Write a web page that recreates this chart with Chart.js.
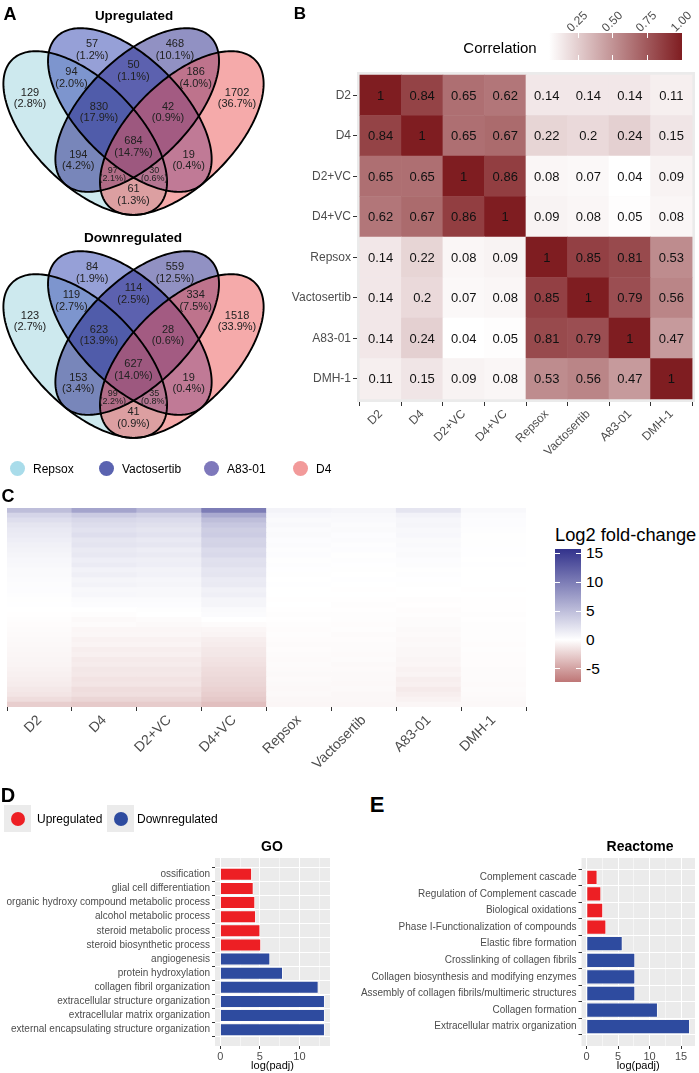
<!DOCTYPE html>
<html><head><meta charset="utf-8">
<script src="https://cdn.jsdelivr.net/npm/chart.js@4.4.1/dist/chart.umd.min.js"></script>
<style>
body{margin:0;width:699px;height:1073px;position:relative;background:#fff;font-family:"Liberation Sans",Arial,Helvetica,sans-serif;overflow:hidden}
canvas{position:absolute}
.t{position:absolute;white-space:nowrap;line-height:1;transform:translate(-50%,-50%)}
.l{position:absolute;white-space:nowrap;line-height:1;transform:translate(0,-50%)}
.b{font-weight:bold}
.dot{position:absolute;border-radius:50%}
</style></head><body>
<canvas id="venn1" width="270" height="225" style="left:0;top:0"></canvas>
<canvas id="venn2" width="270" height="225" style="left:0;top:223px"></canvas>
<canvas id="corr" width="449" height="395" style="left:250px;top:62px"></canvas>
<canvas id="lfc" width="540" height="275" style="left:0;top:500px"></canvas>
<canvas id="go" width="333" height="223" style="left:0;top:850px"></canvas>
<canvas id="rea" width="349" height="223" style="left:350px;top:850px"></canvas>
<div id="txt"></div>
<script>
// ---------------- DATA ----------------
// Panel A : Venn region counts (order of regions below)
const vennRegionNames = ['Repsox','Vactosertib','A83-01','D4','Repsox&Vactosertib','Vactosertib&A83-01','A83-01&D4',
  'Repsox&Vactosertib&A83-01','Vactosertib&A83-01&D4','all','Repsox&A83-01','Vactosertib&D4','Repsox&A83-01&D4','Repsox&Vactosertib&D4','Repsox&D4'];
const upCounts   = [129, 57, 468, 1702, 94, 50, 186, 830, 42, 684, 194, 19, 97, 30, 61];
const upPct      = ['2.8%','1.2%','10.1%','36.7%','2.0%','1.1%','4.0%','17.9%','0.9%','14.7%','4.2%','0.4%','2.1%','0.6%','1.3%'];
const downCounts = [123, 84, 559, 1518, 119, 114, 334, 623, 28, 627, 153, 19, 99, 35, 41];
const downPct    = ['2.7%','1.9%','12.5%','33.9%','2.7%','2.5%','7.5%','13.9%','0.6%','14.0%','3.4%','0.4%','2.2%','0.8%','0.9%'];
const vennSets   = ['Repsox','Vactosertib','A83-01','D4'];

// Panel B : correlation matrix rows
const sampleNames = ['D2','D4','D2+VC','D4+VC','Repsox','Vactosertib','A83-01','DMH-1'];
const corr_D2     = [1, 0.84, 0.65, 0.62, 0.14, 0.14, 0.14, 0.11];
const corr_D4     = [0.84, 1, 0.65, 0.67, 0.22, 0.2, 0.24, 0.15];
const corr_D2VC   = [0.65, 0.65, 1, 0.86, 0.08, 0.07, 0.04, 0.09];
const corr_D4VC   = [0.62, 0.67, 0.86, 1, 0.09, 0.08, 0.05, 0.08];
const corr_Repsox = [0.14, 0.22, 0.08, 0.09, 1, 0.85, 0.81, 0.53];
const corr_Vact   = [0.14, 0.2, 0.07, 0.08, 0.85, 1, 0.79, 0.56];
const corr_A83    = [0.14, 0.24, 0.04, 0.05, 0.81, 0.79, 1, 0.47];
const corr_DMH    = [0.11, 0.15, 0.09, 0.08, 0.53, 0.56, 0.47, 1];
const corrTicks   = [0.25, 0.50, 0.75, 1.00];

// Panel C : log2 fold-change (gene bands, top to bottom) per sample
const lfc_D2     = [5.0,3.2,2.5,2.0,1.7,1.5,1.3,1.1,0.9,0.8,0.6,0.5,0.4,0.35,0.3,0.25,0.2,0.15,0.1,0.05,0,-0.05,-0.1,-0.15,-0.2,-0.25,-0.3,-0.35,-0.4,-0.5,-0.55,-0.6,-0.7,-0.8,-0.9,-1.0,-1.2,-1.4,-1.8,-2.6];
const lfc_D4     = [7.0,4.0,3.0,2.6,2.2,2.5,1.9,2.1,1.6,1.8,1.3,1.5,1.0,1.2,0.8,0.9,0.5,0.6,0.3,0.2,0.0,-0.1,-0.3,-0.2,-0.5,-0.4,-0.7,-0.6,-0.9,-0.8,-1.1,-1.0,-1.3,-1.2,-1.5,-1.4,-1.8,-1.7,-2.2,-2.8];
const lfc_D2VC   = [5.5,3.5,2.8,2.4,2.0,2.2,1.7,1.9,1.4,1.6,1.2,1.3,0.9,1.0,0.7,0.8,0.5,0.5,0.3,0.2,0.1,0.0,-0.2,-0.3,-0.5,-0.4,-0.7,-0.6,-0.9,-0.8,-1.1,-1.0,-1.3,-1.2,-1.5,-1.4,-1.8,-1.7,-2.2,-2.7];
const lfc_D4VC   = [10.0,6.5,5.0,4.3,3.8,3.9,3.3,3.4,2.8,2.9,2.3,2.4,1.9,2.0,1.5,1.6,1.1,1.2,0.8,0.8,0.4,0.3,0.0,-0.2,-0.5,-0.6,-0.9,-1.0,-1.2,-1.3,-1.5,-1.6,-1.8,-1.9,-2.1,-2.2,-2.4,-2.6,-2.9,-3.4];
const lfc_Repsox = [0.9,0.6,0.4,0.5,0.3,0.35,0.2,0.3,0.15,0.2,0.1,0.15,0.05,0.1,0.0,0.05,0.0,0.0,-0.05,0.0,-0.05,-0.1,-0.05,-0.1,-0.15,-0.1,-0.15,-0.2,-0.15,-0.2,-0.25,-0.2,-0.25,-0.3,-0.25,-0.3,-0.35,-0.3,-0.4,-0.5];
const lfc_Vact   = [0.8,0.5,0.45,0.3,0.35,0.2,0.3,0.15,0.2,0.1,0.15,0.05,0.1,0.0,0.05,0.0,-0.05,0.0,-0.05,-0.1,-0.05,-0.1,-0.1,-0.15,-0.1,-0.2,-0.15,-0.2,-0.2,-0.25,-0.2,-0.3,-0.25,-0.3,-0.3,-0.35,-0.3,-0.4,-0.4,-0.5];
const lfc_A83    = [2.0,1.0,0.7,0.8,0.5,0.6,0.4,0.45,0.3,0.35,0.2,0.25,0.1,0.15,0.05,0.1,0.0,0.0,-0.1,-0.05,-0.15,-0.1,-0.2,-0.2,-0.3,-0.25,-0.35,-0.3,-0.45,-0.4,-0.55,-0.5,-0.7,-0.6,-0.9,-0.8,-1.1,-0.9,-0.7,-0.5];
const lfc_DMH    = [0.5,0.3,0.2,0.2,0.15,0.1,0.1,0.1,0.05,0.05,0.0,0.05,0.0,0.0,0.0,0.0,-0.05,0.0,-0.05,-0.05,-0.05,-0.1,-0.05,-0.1,-0.1,-0.1,-0.1,-0.15,-0.1,-0.15,-0.15,-0.15,-0.2,-0.2,-0.2,-0.25,-0.2,-0.25,-0.3,-0.35];
const lfcTicks   = [15, 10, 5, 0, -5];

// Panel D : GO enrichment
const goTerms = ['ossification','glial cell differentiation','organic hydroxy compound metabolic process','alcohol metabolic process',
  'steroid metabolic process','steroid biosynthetic process','angiogenesis','protein hydroxylation','collagen fibril organization',
  'extracellular structure organization','extracellular matrix organization','external encapsulating structure organization'];
const goValues = [4.0, 4.2, 4.4, 4.5, 5.05, 5.15, 6.3, 7.9, 12.4, 13.2, 13.2, 13.2];
const goDir    = ['up','up','up','up','up','up','down','down','down','down','down','down'];

// Panel E : Reactome enrichment
const reaTerms = ['Complement cascade','Regulation of Complement cascade','Biological oxidations','Phase I-Functionalization of compounds',
  'Elastic fibre formation','Crosslinking of collagen fibrils','Collagen biosynthesis and modifying enzymes',
  'Assembly of collagen fibrils/multimeric structures','Collagen formation','Extracellular matrix organization'];
const reaValues = [1.7, 2.3, 2.6, 3.1, 5.7, 7.7, 7.7, 7.7, 11.3, 16.4];
const reaDir    = ['up','up','up','up','down','down','down','down','down','down'];

// ---------------- STYLE / LAYOUT ----------------
const FONT = '"Liberation Sans", Arial, Helvetica, sans-serif';
Chart.defaults.font.family = FONT;
Chart.defaults.animation = false;
Chart.defaults.responsive = false;
Chart.defaults.plugins.legend.display = false;
Chart.defaults.plugins.tooltip.enabled = false;
const GREY = '#4d4d4d';
const RED = '#ED1F24', BLUE = '#2E4B9F';

// ---------- Venn (4-set ellipse layout, shape units) ----------
const vennShapes = [
  {x:-0.7,        y:-0.5,  a:0.75, b:1.5, rot: Math.PI/4},
  {x:-0.72 + 2/3, y:-1/6,  a:0.75, b:1.5, rot: Math.PI/4},
  {x: 0.72 - 2/3, y:-1/6,  a:0.75, b:1.5, rot:-Math.PI/4},
  {x: 0.7,        y:-0.5,  a:0.75, b:1.5, rot:-Math.PI/4}];
const vennTextPos = [[-1.5,0],[-0.6,0.7],[0.6,0.7],[1.5,0],[-0.9,0.3],[0,0.4],[0.9,0.3],[-0.5,-0.2],[0.5,-0.2],[0,-0.7],[-0.8,-0.9],[0.8,-0.9],[-0.3,-1.1],[0.3,-1.1],[0,-1.4]];
const vennFill = ['rgba(155,211,221,0.5)','rgba(45,65,175,0.5)','rgba(35,35,135,0.5)','rgba(235,85,85,0.5)'];
const vennLegendCol = ['#a9dcea','#5a63b0','#7e78bb','#f29a9a'];

function ellipsePath(ctx, chart, e){
  const xs = chart.scales.x, ys = chart.scales.y;
  ctx.beginPath();
  for (let k = 0; k <= 240; k++){
    const t = k / 240 * 2 * Math.PI;
    const xr = e.a * Math.cos(t), yr = e.b * Math.sin(t);
    const u = e.x + xr * Math.cos(e.rot) - yr * Math.sin(e.rot);
    const v = e.y + xr * Math.sin(e.rot) + yr * Math.cos(e.rot);
    const X = xs.getPixelForValue(u), Y = ys.getPixelForValue(v);
    if (k === 0) ctx.moveTo(X, Y); else ctx.lineTo(X, Y);
  }
  ctx.closePath();
}
function makeVenn(id, counts, pcts){
  new Chart(document.getElementById(id), {
    type: 'scatter',
    data: { datasets: [{ data: vennTextPos.map(p => ({x:p[0], y:p[1]})), pointRadius: 0 }] },
    options: {
      layout: { padding: 0 },
      scales: { x: {type:'linear', min:-1.935, max:1.978, display:false}, y: {type:'linear', min:-1.833, max:1.4275, display:false} }
    },
    plugins: [{
      id: 'venn',
      beforeDatasetsDraw(chart){
        const ctx = chart.ctx; ctx.save();
        vennShapes.forEach((e, i) => { ellipsePath(ctx, chart, e); ctx.fillStyle = vennFill[i]; ctx.fill(); });
        ctx.lineWidth = 1.9; ctx.strokeStyle = '#000';
        vennShapes.forEach(e => { ellipsePath(ctx, chart, e); ctx.stroke(); });
        ctx.restore();
      },
      afterDatasetsDraw(chart){
        const ctx = chart.ctx, meta = chart.getDatasetMeta(0);
        ctx.save(); ctx.fillStyle = '#222'; ctx.textAlign = 'center'; ctx.textBaseline = 'middle';
        meta.data.forEach((pt, i) => {
          const small = (i === 12 || i === 13);
          const h = small ? 4.2 : 5.8;
          ctx.font = (small ? 9 : 11) + 'px ' + FONT;
          ctx.fillText(String(counts[i]), pt.x, pt.y - h);
          ctx.fillText('(' + pcts[i] + ')', pt.x, pt.y + h);
        });
        ctx.restore();
      }
    }]
  });
}
makeVenn('venn1', upCounts, upPct);
makeVenn('venn2', downCounts, downPct);

// ---------- Panel B : correlation heatmap ----------
const corrRows = [corr_D2, corr_D4, corr_D2VC, corr_D4VC, corr_Repsox, corr_Vact, corr_A83, corr_DMH];
const CMIN = 0.04, CHI = [127, 29, 33];
function corrColor(v){
  const t = Math.max(0, Math.min(1, (v - CMIN) / (1 - CMIN)));
  return `rgb(${Math.round(255 + (CHI[0]-255)*t)},${Math.round(255 + (CHI[1]-255)*t)},${Math.round(255 + (CHI[2]-255)*t)})`;
}
const corrDatasets = [];
for (let r = corrRows.length - 1; r >= 0; r--){
  corrDatasets.push({ data: corrRows[r].map((v, j) => ({x:j, y:1})), vals: corrRows[r],
    backgroundColor: corrRows[r].map(corrColor), borderWidth: 0, barPercentage: 1, categoryPercentage: 1 });
}
const bgPlugin = (col) => ({ id:'bg', beforeDraw(chart){ const {ctx, chartArea:a} = chart; ctx.save(); ctx.fillStyle = col; ctx.fillRect(a.left, a.top, a.right-a.left, a.bottom-a.top); ctx.restore(); } });
new Chart(document.getElementById('corr'), {
  type: 'bar',
  data: { datasets: corrDatasets },
  options: {
    layout: { padding: { top: 10, right: 4, left: 0, bottom: 0 } },
    scales: {
      x: { type:'linear', stacked:true, min:-0.57, max:7.57, offset:false,
        afterBuildTicks: s => { s.ticks = sampleNames.map((_, i) => ({value:i})); },
        ticks: { callback: v => sampleNames[v], autoSkip:false, minRotation:45, maxRotation:45, color:GREY, font:{size:12}, padding:1 },
        grid: { drawOnChartArea:false, tickLength:4, tickColor:'#333' }, border:{display:false},
        afterFit: s => { s.height = 55; } },
      y: { type:'linear', stacked:true, min:-0.075, max:8.075,
        afterBuildTicks: s => { s.ticks = sampleNames.map((_, i) => ({value:i + 0.5})); },
        ticks: { callback: v => sampleNames[7 - Math.floor(v)], autoSkip:false, color:GREY, font:{size:12}, padding:2 },
        grid: { drawOnChartArea:false, tickLength:4, tickColor:'#333' }, border:{display:false},
        afterFit: s => { s.width = 107; } }
    }
  },
  plugins: [bgPlugin('#ebebeb'), {
    id:'celltext',
    afterDatasetsDraw(chart){
      const ctx = chart.ctx; ctx.save();
      ctx.font = '13px ' + FONT; ctx.fillStyle = '#111'; ctx.textAlign = 'center'; ctx.textBaseline = 'middle';
      chart.data.datasets.forEach((ds, di) => {
        chart.getDatasetMeta(di).data.forEach((el, j) => { ctx.fillText(String(ds.vals[j]), el.x, (el.y + el.base) / 2 + 1); });
      });
      ctx.restore();
    }
  }]
});

// ---------- Panel C : log2 fold-change heatmap ----------
const lfcCols = [lfc_D2, lfc_D4, lfc_D2VC, lfc_D4VC, lfc_Repsox, lfc_Vact, lfc_A83, lfc_DMH];
const LMAX = 15.75, LMIN = -7.3, LHI = [50, 50, 140], LLO = [190, 118, 118];
function lfcColor(v){
  let c, t;
  if (v >= 0){ t = Math.min(1, v / LMAX); c = LHI; } else { t = Math.min(1, v / LMIN); c = LLO; }
  return `rgb(${Math.round(255 + (c[0]-255)*t)},${Math.round(255 + (c[1]-255)*t)},${Math.round(255 + (c[2]-255)*t)})`;
}
const nBands = lfc_D2.length;
const lfcDatasets = [];
for (let r = nBands - 1; r >= 0; r--){
  lfcDatasets.push({ data: lfcCols.map((col, j) => ({x:j, y:1})), backgroundColor: lfcCols.map(col => lfcColor(col[r])),
    borderWidth: 0, barPercentage: 1, categoryPercentage: 1 });
}
new Chart(document.getElementById('lfc'), {
  type: 'bar',
  data: { datasets: lfcDatasets },
  options: {
    layout: { padding: { top: 8, right: 14, left: 7, bottom: 0 } },
    scales: {
      x: { type:'linear', stacked:true, min:-0.5, max:7.5, offset:false,
        afterBuildTicks: s => { s.ticks = sampleNames.map((_, i) => ({value:i})); },
        ticks: { callback: v => sampleNames[v], autoSkip:false, minRotation:45, maxRotation:45, color:GREY, font:{size:14}, padding:1 },
        grid: { drawOnChartArea:false, tickLength:4, tickColor:'#333' }, border:{display:false},
        afterFit: s => { s.height = 68; } },
      y: { type:'linear', stacked:true, min:0, max:nBands, display:false }
    }
  }
});

// ---------- Panels D/E : enrichment bars ----------
function makeEnrich(id, terms, values, dir, xmax, xticks, yWidth, padRight){
  const pad = xmax * 0.05;
  new Chart(document.getElementById(id), {
    type: 'bar',
    data: { datasets: [{ data: values.map((v, i) => ({x:v, y:i})), backgroundColor: dir.map(d => d === 'up' ? RED : BLUE),
      borderColor:'#fff', borderWidth:0.8, barPercentage:0.9, categoryPercentage:1 }] },
    options: {
      indexAxis: 'y',
      layout: { padding: { top: 6, right: padRight, left: 0, bottom: 0 } },
      scales: {
        x: { type:'linear', min:-pad, max:xmax + pad,
          afterBuildTicks: s => { s.ticks = xticks.map(v => ({value:v})); },
          ticks: { callback: v => (v % 5 === 0 ? String(v) : ''), autoSkip:false, maxRotation:0, color:GREY, font:{size:11}, padding:1 },
          grid: { color:'#fff', lineWidth: c => (c.tick && c.tick.value % 5 === 0 ? 1 : 0.5),
                  tickColor: c => (c.tick && c.tick.value % 5 === 0 ? '#333' : 'rgba(0,0,0,0)'), tickLength:3 },
          border: {display:false},
          title: { display:true, text:'log(padj)', color:'#000', font:{size:11}, padding:{top:0, bottom:0} },
          afterFit: s => { s.height = 27; } },
        y: { type:'linear', reverse:true, min:-0.6, max:terms.length - 0.4,
          afterBuildTicks: s => { s.ticks = terms.map((_, i) => ({value:i})); },
          ticks: { callback: v => terms[v], autoSkip:false, color:GREY, font:{size:10}, padding:2 },
          grid: { color:'#fff', lineWidth:1, tickColor:'#333', tickLength:3 }, border:{display:false},
          afterFit: s => { s.width = yWidth; } }
      }
    },
    plugins: [bgPlugin('#ebebeb')]
  });
}
const goMax = Math.max(...goValues), reaMax = Math.max(...reaValues);
makeEnrich('go', goTerms, goValues, goDir, goMax, [0,2.5,5,7.5,10,12.5], 215, 3);
makeEnrich('rea', reaTerms, reaValues, reaDir, reaMax, [0,2.5,5,7.5,10,12.5,15], 231.5, 4);

// ---------------- TEXT / LEGENDS (HTML) ----------------
const T = document.getElementById('txt');
function add(html){ T.insertAdjacentHTML('beforeend', html); }
function ct(x, y, s, size, cls, extra){ add(`<div class="t ${cls||''}" style="left:${x}px;top:${y}px;font-size:${size}px;${extra||''}">${s}</div>`); }
function lt(x, y, s, size, cls, extra){ add(`<div class="l ${cls||''}" style="left:${x}px;top:${y}px;font-size:${size}px;${extra||''}">${s}</div>`); }
// panel letters
ct(10, 14, 'A', 18, 'b'); ct(300, 13, 'B', 17, 'b'); ct(8, 496, 'C', 18, 'b'); ct(8, 795, 'D', 20, 'b'); ct(377, 805, 'E', 22, 'b');
// venn titles
ct(134, 16, 'Upregulated', 13.4, 'b'); ct(133, 238, 'Downregulated', 13.6, 'b');
// venn legend
const vlx = [17, 106, 211, 300];
vennSets.forEach((s, i) => {
  add(`<div class="dot" style="left:${vlx[i]-7.5}px;top:${468-7.5}px;width:15px;height:15px;background:${vennLegendCol[i]}"></div>`);
  lt(vlx[i] + 16, 469, s, 12);
});
// correlation legend
ct(500, 47, 'Correlation', 15);
const cbL = 549, cbR = 682;
add(`<div style="position:absolute;left:${cbL}px;top:33px;width:${cbR-cbL}px;height:27px;background:linear-gradient(to right, ${corrColor(CMIN)}, ${corrColor(1)})"></div>`);
corrTicks.forEach(v => {
  const x = cbL + (v - CMIN) / (1 - CMIN) * (cbR - cbL);
  add(`<div style="position:absolute;left:${x-0.5}px;top:33px;width:1px;height:5px;background:#fff"></div>`);
  add(`<div style="position:absolute;left:${x-0.5}px;top:55px;width:1px;height:5px;background:#fff"></div>`);
  add(`<div style="position:absolute;left:${x-5}px;top:22px;font-size:12px;line-height:1;color:${GREY};transform-origin:0 100%;transform:rotate(-45deg);white-space:nowrap">${v.toFixed(2)}</div>`);
});
// log2 fold-change legend
lt(555, 535, 'Log2 fold-change', 18.3);
const lbT = 549, lbB = 682;
const zeroPct = (LMAX / (LMAX - LMIN) * 100).toFixed(1);
add(`<div style="position:absolute;left:555px;top:${lbT}px;width:26px;height:${lbB-lbT}px;background:linear-gradient(to bottom, ${lfcColor(LMAX)}, #ffffff ${zeroPct}%, ${lfcColor(LMIN)})"></div>`);
lfcTicks.forEach(v => {
  const y = lbT + (LMAX - v) / (LMAX - LMIN) * (lbB - lbT);
  add(`<div style="position:absolute;left:555px;top:${y-0.5}px;width:5px;height:1px;background:#fff"></div>`);
  add(`<div style="position:absolute;left:576px;top:${y-0.5}px;width:5px;height:1px;background:#fff"></div>`);
  lt(586, y, String(v), 15.5);
});
// D legend
add(`<div style="position:absolute;left:4px;top:805px;width:27px;height:27px;background:#ebebeb"></div>`);
add(`<div style="position:absolute;left:107px;top:805px;width:27px;height:27px;background:#ebebeb"></div>`);
add(`<div class="dot" style="left:10.5px;top:811.5px;width:14px;height:14px;background:${RED}"></div>`);
add(`<div class="dot" style="left:113.5px;top:811.5px;width:14px;height:14px;background:${BLUE}"></div>`);
lt(37, 819, 'Upregulated', 12); lt(137, 819, 'Downregulated', 12);
// D/E titles
ct(272, 846, 'GO', 14, 'b'); ct(640, 846, 'Reactome', 14, 'b');
</script>
</body></html>
